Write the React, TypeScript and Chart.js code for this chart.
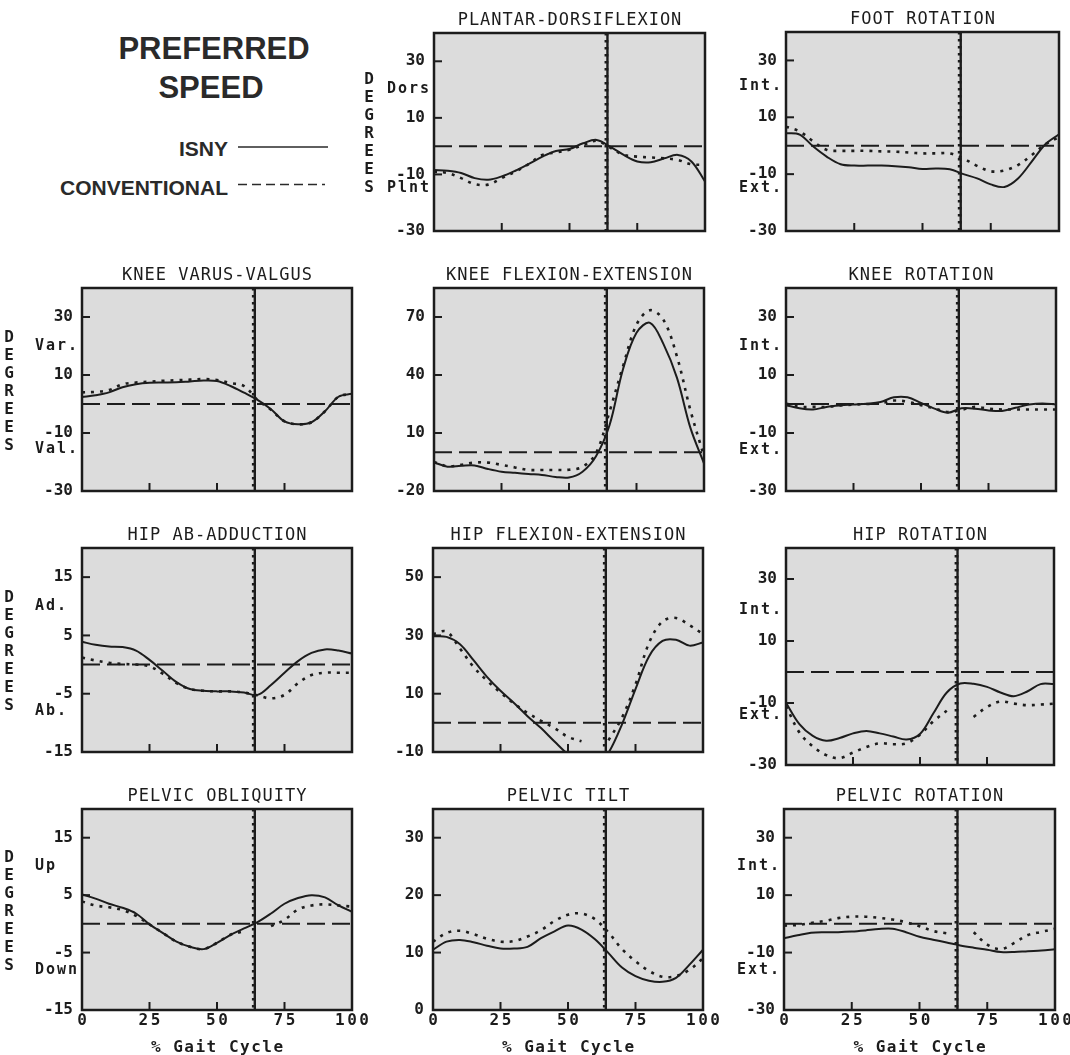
import React, { useEffect, useRef } from 'react';
import { Chart, registerables } from 'chart.js';

Chart.register(...registerables);

// ---------- data ----------
const GAIT_PCT = [0, 5, 10, 15, 20, 25, 30, 35, 40, 45, 50, 55, 60, 65, 70, 75, 80, 85, 90, 95, 100];
const X_TICKS = [0, 25, 50, 75, 100];
const X_INNER_TICKS = [25, 50, 75];
const TOE_OFF = 64;

const plantarIsny = [-8.4, -8.7, -9.5, -11.3, -11.9, -10.7, -8.7, -6.3, -3.7, -1.7, -1.0, 1.0, 2.2, -0.2, -3.1, -5.4, -5.7, -4.3, -3.1, -5.4, -12.5];
const plantarConv = [-9.0, -9.5, -11.3, -13.4, -13.6, -11.3, -9.0, -6.3, -3.1, -2.2, -1.3, 0.4, 1.9, -0.5, -3.1, -3.7, -4.0, -4.3, -4.9, -6.4, -6.6];
const plantarTicks = [30, 10, -10, -30];

const footIsny = [4.4, 3.9, -0.3, -3.9, -6.5, -7.0, -7.0, -7.0, -7.2, -7.6, -8.2, -8.0, -8.3, -10.0, -11.5, -13.6, -14.5, -11.5, -5.6, 0.5, 4.0];
const footConv = [6.7, 5.0, 1.5, -1.5, -1.8, -1.8, -1.8, -2.0, -2.1, -2.4, -2.7, -2.7, -2.7, -4.5, -7.1, -9.0, -8.7, -6.8, -3.3, 0.5, 3.0];
const footTicks = [30, 10, -10, -30];

const varusIsny = [2.4, 3.0, 4.0, 5.8, 6.8, 7.3, 7.4, 7.5, 7.8, 8.1, 7.9, 6.2, 3.9, 1.4, -1.8, -6.0, -7.0, -6.3, -2.5, 2.5, 3.5];
const varusConv = [4.0, 4.2, 4.8, 6.8, 7.4, 7.7, 8.0, 8.2, 8.4, 8.6, 8.3, 7.2, 6.2, 1.4, -2.0, -6.0, -7.0, -6.3, -2.5, 2.5, 3.5];
const varusTicks = [30, 10, -10, -30];

const kneeFlexIsny = [-5.2, -7.4, -7.0, -6.8, -8.6, -10.0, -10.6, -11.2, -11.7, -12.7, -13.0, -10.0, -2.0, 14.0, 43.0, 61.8, 67.0, 56.0, 38.5, 12.5, -5.7];
const kneeFlexConv = [-5.0, -7.2, -6.5, -5.3, -5.3, -6.5, -7.8, -9.1, -9.1, -9.1, -9.0, -7.5, -0.5, 21.0, 44.5, 66.0, 73.5, 68.5, 49.5, 21.6, -2.0];
const kneeFlexTicks = [70, 40, 10, -20];

const kneeRotIsny = [-0.4, -1.5, -1.9, -1.0, -0.5, -0.2, 0.1, 0.7, 2.3, 2.3, 0.4, -1.6, -3.0, -1.5, -1.6, -2.2, -2.4, -1.3, -0.2, 0.2, -0.2];
const kneeRotConv = [0.2, -1.0, -1.0, -1.0, -0.5, -0.2, 0.0, 0.2, 1.2, 0.8, -0.4, -1.5, -2.8, -2.0, -1.0, -1.6, -1.9, -1.9, -1.9, -1.9, -1.9];
const kneeRotTicks = [30, 10, -10, -30];

const hipAbIsny = [3.9, 3.4, 3.1, 3.0, 2.4, 0.8, -1.1, -3.0, -4.2, -4.5, -4.6, -4.6, -4.8, -5.2, -3.5, -1.4, 0.6, 2.0, 2.6, 2.4, 1.9];
const hipAbConv = [1.2, 0.7, 0.3, 0.1, 0.0, -0.3, -1.6, -3.2, -4.2, -4.5, -4.6, -4.6, -4.8, -5.3, -5.8, -5.2, -3.2, -1.8, -1.4, -1.4, -1.4];
const hipAbTicks = [15, 5, -5, -15];

const hipFlexIsny = [29.7, 29.5, 27.0, 21.5, 15.8, 11.0, 6.8, 2.3, -1.8, -6.4, -10.8, -14.0, -16.0, -10.3, -0.5, 11.6, 22.8, 28.1, 28.5, 26.5, 27.6];
const hipFlexConv = [30.5, 31.3, 25.5, 19.2, 14.5, 10.4, 6.6, 3.4, 0.7, -1.8, -4.8, -6.3, null, -6.0, 1.8, 13.2, 27.4, 34.8, 36.0, 33.5, 30.5];
const hipFlexTicks = [50, 30, 10, -10];

const hipRotIsny = [-9.9, -16.8, -20.6, -22.2, -21.3, -19.8, -19.0, -19.8, -20.8, -21.8, -20.0, -13.3, -6.6, -3.7, -3.8, -4.8, -6.6, -7.8, -6.3, -3.9, -3.9];
const hipRotConv = [-11.0, -19.5, -24.0, -26.8, -27.8, -26.0, -24.2, -23.0, -23.3, -23.0, -20.2, -15.9, -12.5, null, -14.5, -11.3, -9.5, -10.2, -10.7, -10.5, -10.2];
const hipRotTicks = [30, 10, -10, -30];

const obliqIsny = [5.1, 4.4, 3.5, 2.8, 1.8, -0.1, -1.6, -3.1, -4.0, -4.4, -3.3, -1.9, -0.8, 0.3, 1.8, 3.5, 4.5, 5.0, 4.6, 3.2, 2.1];
const obliqConv = [3.9, 3.2, 2.9, 2.4, 1.4, -0.1, -1.6, -3.1, -4.0, -4.4, -3.3, -1.9, -1.3, null, -0.4, 0.7, 2.5, 3.2, 3.4, 3.2, 3.0];
const obliqTicks = [15, 5, -5, -15];

const tiltIsny = [10.5, 11.9, 12.2, 11.8, 11.2, 10.7, 10.7, 11.0, 12.5, 13.7, 14.7, 14.0, 12.3, 9.9, 7.4, 5.9, 5.1, 4.9, 5.6, 7.9, 10.5];
const tiltConv = [11.9, 13.4, 13.8, 13.2, 12.4, 11.9, 12.0, 12.8, 13.9, 15.5, 16.6, 16.8, 15.8, 13.5, 10.6, 8.5, 6.8, 5.8, 5.9, 7.0, 9.0];
const tiltTicks = [30, 20, 10, 0];

const pelRotIsny = [-5.0, -4.0, -3.1, -2.9, -2.9, -2.7, -2.3, -1.8, -1.7, -2.9, -4.5, -5.5, -6.5, -7.5, -8.3, -9.0, -9.8, -9.8, -9.5, -9.3, -8.8];
const pelRotConv = [-0.6, -0.4, 0.3, 1.0, 2.0, 2.5, 2.5, 2.1, 1.5, 0.6, -0.8, -2.5, -3.3, null, -2.9, -7.2, -8.8, -6.6, -3.9, -2.8, -1.7];
const pelRotTicks = [30, 10, -10, -30];

// ---------- styles / layout ----------
const MONO = '"DejaVu Sans Mono", "Liberation Mono", monospace';
const SANS = '"Liberation Sans", Arial, Helvetica, sans-serif';
const INK = '#1c1c1c';
const PLOT_BG = '#dcdcdc';
const PAD_L = 80;
const PAD_T = 30;
const PAD_R = 24;
const PAD_B = 45;

type Side = [string, number];
type PanelDef = {
  title: string;
  isny: (number | null)[];
  conv: (number | null)[];
  yMin: number;
  yMax: number;
  yTicks: number[];
  side: Side[];
  box: [number, number, number, number];
  degrees?: number;
  bottom?: boolean;
};

const PANELS: PanelDef[] = [
  { title: 'PLANTAR-DORSIFLEXION', isny: plantarIsny, conv: plantarConv, yMin: -30, yMax: 40, yTicks: plantarTicks, side: [['Dors', 20], ['Plnt', -15]], box: [434, 33, 705, 231], degrees: 65 },
  { title: 'FOOT ROTATION', isny: footIsny, conv: footConv, yMin: -30, yMax: 40, yTicks: footTicks, side: [['Int.', 21], ['Ext.', -15]], box: [786, 32, 1059, 231] },
  { title: 'KNEE VARUS-VALGUS', isny: varusIsny, conv: varusConv, yMin: -30, yMax: 40, yTicks: varusTicks, side: [['Var.', 20], ['Val.', -15.5]], box: [82, 288, 352, 491], degrees: 73 },
  { title: 'KNEE FLEXION-EXTENSION', isny: kneeFlexIsny, conv: kneeFlexConv, yMin: -20, yMax: 85, yTicks: kneeFlexTicks, side: [], box: [434, 288, 704, 491] },
  { title: 'KNEE ROTATION', isny: kneeRotIsny, conv: kneeRotConv, yMin: -30, yMax: 40, yTicks: kneeRotTicks, side: [['Int.', 20], ['Ext.', -16]], box: [786, 288, 1056, 491] },
  { title: 'HIP AB-ADDUCTION', isny: hipAbIsny, conv: hipAbConv, yMin: -15, yMax: 20, yTicks: hipAbTicks, side: [['Ad.', 10], ['Ab.', -8]], box: [82, 548, 352, 752], degrees: 73 },
  { title: 'HIP FLEXION-EXTENSION', isny: hipFlexIsny, conv: hipFlexConv, yMin: -10, yMax: 60, yTicks: hipFlexTicks, side: [], box: [433, 548, 703, 752] },
  { title: 'HIP ROTATION', isny: hipRotIsny, conv: hipRotConv, yMin: -30, yMax: 40, yTicks: hipRotTicks, side: [['Int.', 20], ['Ext.', -14]], box: [786, 548, 1054, 765] },
  { title: 'PELVIC OBLIQUITY', isny: obliqIsny, conv: obliqConv, yMin: -15, yMax: 20, yTicks: obliqTicks, side: [['Up', 10], ['Down', -8]], box: [82, 809, 352, 1010], degrees: 73, bottom: true },
  { title: 'PELVIC TILT', isny: tiltIsny, conv: tiltConv, yMin: 0, yMax: 35, yTicks: tiltTicks, side: [], box: [433, 809, 703, 1010], bottom: true },
  { title: 'PELVIC ROTATION', isny: pelRotIsny, conv: pelRotConv, yMin: -30, yMax: 40, yTicks: pelRotTicks, side: [['Int.', 20], ['Ext.', -16]], box: [784, 809, 1055, 1010], bottom: true },
];

function decoPlugin(p: PanelDef) {
  return {
    id: 'gaitDeco',
    beforeDatasetsDraw(chart: any) {
      const { ctx, chartArea: a } = chart;
      const y = chart.scales.y;
      ctx.save();
      ctx.fillStyle = PLOT_BG;
      ctx.fillRect(a.left, a.top, a.right - a.left, a.bottom - a.top);
      if (p.yMin < 0) {
        const y0 = y.getPixelForValue(0);
        ctx.strokeStyle = INK;
        ctx.lineWidth = 2;
        ctx.setLineDash([18, 7]);
        ctx.beginPath();
        ctx.moveTo(a.left, y0);
        ctx.lineTo(a.right, y0);
        ctx.stroke();
      }
      ctx.restore();
    },
    afterDatasetsDraw(chart: any) {
      const { ctx, chartArea: a } = chart;
      const x = chart.scales.x;
      const y = chart.scales.y;
      const seg = (x1: number, y1: number, x2: number, y2: number) => {
        ctx.beginPath();
        ctx.moveTo(x1, y1);
        ctx.lineTo(x2, y2);
        ctx.stroke();
      };
      ctx.save();
      ctx.strokeStyle = INK;
      // toe-off line
      const xt = x.getPixelForValue(TOE_OFF);
      ctx.lineWidth = 2.4;
      seg(xt, a.top, xt, a.bottom);
      ctx.lineWidth = 3.8;
      ctx.setLineDash([2.5, 4.5]);
      seg(xt - 1, a.top, xt - 1, a.bottom);
      ctx.setLineDash([]);
      // frame
      ctx.lineWidth = 2.5;
      ctx.strokeRect(a.left, a.top, a.right - a.left, a.bottom - a.top);
      // inner ticks
      ctx.lineWidth = 2;
      for (const v of X_INNER_TICKS) {
        const px = x.getPixelForValue(v);
        seg(px, a.bottom, px, a.bottom - 8);
      }
      for (const v of p.yTicks) {
        if (v > p.yMin) {
          const py = y.getPixelForValue(v);
          seg(a.left, py, a.left + 8, py);
        }
      }
      // texts
      ctx.fillStyle = INK;
      ctx.textBaseline = 'middle';
      ctx.font = `17px ${MONO}`;
      ctx.letterSpacing = '1px';
      ctx.textAlign = 'center';
      ctx.fillText(p.title, (a.left + a.right) / 2 + 0.5, a.top - 12);

      ctx.font = `bold 15px ${MONO}`;
      ctx.letterSpacing = '2px';
      ctx.textAlign = 'left';
      for (const [t, v] of p.side) ctx.fillText(t, a.left - 47, y.getPixelForValue(v));

      if (p.degrees) {
        ctx.letterSpacing = '0px';
        ctx.textAlign = 'center';
        ctx.font = `bold 16px ${MONO}`;
        const cy = (a.top + a.bottom) / 2 + 2;
        'DEGREES'.split('').forEach((ch, i) => ctx.fillText(ch, a.left - p.degrees!, cy + (i - 3) * 18));
      }

      if (p.bottom) {
        ctx.font = `bold 16px ${MONO}`;
        ctx.letterSpacing = '2.5px';
        ctx.textAlign = 'center';
        for (const v of X_TICKS) ctx.fillText(String(v), x.getPixelForValue(v) + 1.25, a.bottom + 11);
        ctx.letterSpacing = '1.5px';
        ctx.fillText('% Gait Cycle', (a.left + a.right) / 2 + 0.75, a.bottom + 38);
      }
      ctx.restore();
    },
  };
}

function Panel({ p }: { p: PanelDef }) {
  const ref = useRef<HTMLCanvasElement>(null);
  const [l, t, r, b] = p.box;
  const w = r - l + PAD_L + PAD_R;
  const h = b - t + PAD_T + PAD_B;
  useEffect(() => {
    if (!ref.current) return;
    const chart = new Chart(ref.current, {
      type: 'line',
      data: {
        datasets: [
          {
            label: 'ISNY',
            data: GAIT_PCT.map((gx, i) => ({ x: gx, y: p.isny[i] })) as any,
            borderColor: INK,
            borderWidth: 2,
            pointRadius: 0,
            fill: false,
            spanGaps: false,
            tension: 0.35,
          },
          {
            label: 'CONVENTIONAL',
            data: GAIT_PCT.map((gx, i) => ({ x: gx, y: p.conv[i] })) as any,
            borderColor: INK,
            borderWidth: 2.6,
            borderDash: [3, 6],
            pointRadius: 0,
            fill: false,
            spanGaps: false,
            tension: 0.35,
          },
        ],
      },
      options: {
        animation: false,
        responsive: false,
        maintainAspectRatio: false,
        devicePixelRatio: 1,
        events: [],
        layout: { padding: { left: 0, top: PAD_T, right: PAD_R, bottom: 0 } },
        plugins: { legend: { display: false }, tooltip: { enabled: false }, title: { display: false } },
        scales: {
          x: {
            type: 'linear',
            min: 0,
            max: 100,
            grid: { display: false, drawTicks: false },
            border: { display: false },
            ticks: { display: false },
            afterFit: (s: any) => { s.height = PAD_B; },
          },
          y: {
            type: 'linear',
            min: p.yMin,
            max: p.yMax,
            grid: { display: false, drawTicks: false },
            border: { display: false },
            ticks: {
              autoSkip: false,
              padding: 9,
              color: INK,
              font: { family: MONO, size: 16, weight: 'bold' },
            },
            afterBuildTicks: (s: any) => { s.ticks = p.yTicks.map((v) => ({ value: v })); },
            afterFit: (s: any) => { s.width = PAD_L; },
          },
        },
      } as any,
      plugins: [decoPlugin(p)],
    });
    return () => chart.destroy();
  }, []);
  return (
    <canvas
      ref={ref}
      width={w}
      height={h}
      style={{ position: 'absolute', left: l - PAD_L, top: t - PAD_T, width: w, height: h }}
    />
  );
}

const headStyle: React.CSSProperties = {
  position: 'absolute',
  fontFamily: SANS,
  fontWeight: 'bold',
  color: '#2a2a2a',
  lineHeight: 1,
  whiteSpace: 'nowrap',
};

export default function App() {
  return (
    <div style={{ position: 'absolute', left: 0, top: 0, width: 1070, height: 1055, overflow: 'hidden', background: '#ffffff' }}>
      <div style={{ ...headStyle, left: 114, top: 33, width: 200, textAlign: 'center', fontSize: 31 }}>PREFERRED</div>
      <div style={{ ...headStyle, left: 111, top: 72, width: 200, textAlign: 'center', fontSize: 31 }}>SPEED</div>
      <div style={{ ...headStyle, left: 28, top: 138, width: 200, textAlign: 'right', fontSize: 21 }}>ISNY</div>
      <div style={{ ...headStyle, left: 28, top: 177, width: 200, textAlign: 'right', fontSize: 21 }}>CONVENTIONAL</div>
      <svg style={{ position: 'absolute', left: 236, top: 140 }} width={100} height={50}>
        <line x1={2} y1={7} x2={92} y2={7} stroke="#2a2a2a" strokeWidth={1.6} />
        <line x1={2} y1={44.5} x2={89} y2={44.5} stroke="#2a2a2a" strokeWidth={1.6} strokeDasharray="9 5" />
      </svg>
      {PANELS.map((p) => (
        <Panel key={p.title} p={p} />
      ))}
    </div>
  );
}
